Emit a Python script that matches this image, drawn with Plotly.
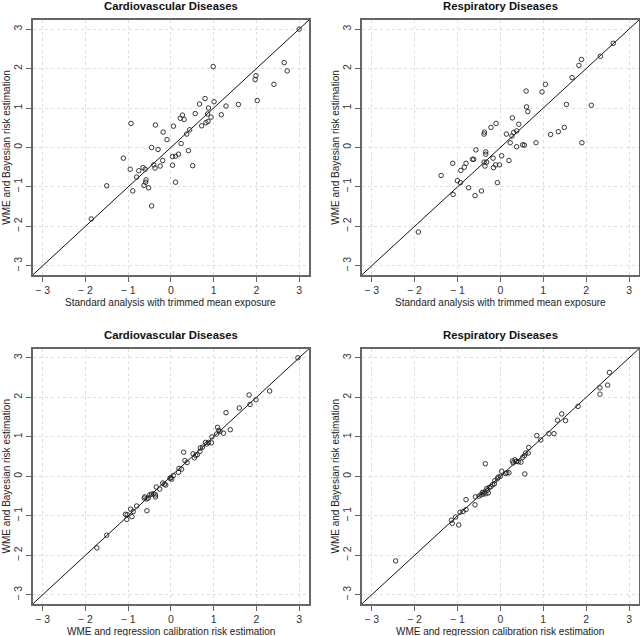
import plotly.graph_objects as go

# ---------------- data ----------------
cvd_std_x = [3.0, 0.99, 2.65, 2.72, 1.99, 1.97, 2.41, 2.02, 0.80, 1.01, 0.67, 1.29, 1.58, 0.88, 0.27,
             0.57, 0.86, 1.18, 0.22, 0.31, 0.94, -0.93, -0.36, 0.06, 0.72, 0.82, 0.87, 0.44, -0.18, 0.37,
             -0.09, 0.24, -0.45, -0.30, 0.41, -1.11, 0.18, 0.11, 0.04, -0.19, -0.95, -0.65, -0.60, -0.75,
             -0.40, -0.37, -0.25, 0.04, 0.51, -0.80, -0.58, -0.59, -0.63, -0.52, 0.11, -1.50, -0.89, -0.45, -1.86]
cvd_std_y = [3.0, 2.05, 2.15, 1.94, 1.82, 1.72, 1.60, 1.19, 1.24, 1.16, 1.10, 1.05, 1.09, 1.00, 0.82,
             0.86, 0.85, 0.83, 0.74, 0.71, 0.77, 0.61, 0.57, 0.54, 0.55, 0.63, 0.66, 0.45, 0.39, 0.34,
             0.20, 0.10, 0.0, -0.05, -0.08, -0.27, -0.17, -0.22, -0.23, -0.33, -0.55, -0.51, -0.55, -0.59,
             -0.44, -0.52, -0.47, -0.45, -0.46, -0.75, -0.82, -0.88, -0.96, -1.02, -0.88, -0.97, -1.10, -1.48, -1.81]

resp_std_x = [2.63, 2.33, 1.89, 1.83, 1.67, 1.05, 0.97, 0.60, 1.54, 2.12, 0.61, 0.64, 0.28, -0.10, 0.43,
              -0.22, 1.49, 1.35, -0.37, -0.38, 0.14, 0.31, 0.38, 1.17, 0.27, 0.23, 0.83, 1.90, 0.52, 0.56,
              0.38, -0.57, -0.34, -0.34, 0.03, -0.17, -0.65, -0.62, 0.20, -0.38, -0.32, -0.80, -1.11, -0.11,
              -0.02, -0.36, -0.84, -0.16, -0.92, -1.38, -1.00, -0.93, -0.07, -0.74, -0.44, -1.10, -0.59, -1.91]
resp_std_y = [2.64, 2.31, 2.23, 2.08, 1.77, 1.60, 1.41, 1.43, 1.09, 1.07, 1.03, 0.91, 0.75, 0.61, 0.59,
              0.51, 0.51, 0.40, 0.39, 0.34, 0.34, 0.38, 0.42, 0.33, 0.29, 0.12, 0.12, 0.12, 0.07, 0.06,
              0.02, -0.06, -0.11, -0.17, -0.21, -0.27, -0.30, -0.30, -0.33, -0.37, -0.37, -0.40, -0.40, -0.44,
              -0.44, -0.47, -0.50, -0.51, -0.58, -0.71, -0.84, -0.89, -0.89, -1.02, -1.10, -1.19, -1.22, -2.14]

cvd_rc_x = [2.97, 1.83, 2.31, 1.85, 1.99, 1.60, 1.29, 1.09, 1.39, 1.15, 1.23, 1.07, 0.96, 0.95, 0.81,
            0.84, 0.74, 0.69, 0.68, 0.30, 0.52, 0.58, 0.55, 0.33, 0.38, 0.19, 0.18, 0.06, -0.02, 0.02,
            -0.19, -0.12, -0.34, -0.26, -0.49, -0.40, -0.36, -0.61, -0.56, -0.53, -0.80, -0.94, -0.88, -0.56,
            -1.06, -1.02, -1.03, -0.91, -1.50, -1.73, 0.88, 0.62, 0.0, -0.45, -0.36, -0.62, 0.25, 1.12, -0.15]
cvd_rc_y = [3.0, 2.06, 2.16, 1.82, 1.94, 1.73, 1.61, 1.24, 1.18, 1.14, 1.09, 1.07, 1.00, 0.85, 0.86,
            0.82, 0.74, 0.72, 0.63, 0.61, 0.57, 0.53, 0.47, 0.40, 0.35, 0.20, 0.10, 0.02, -0.05, -0.07,
            -0.17, -0.22, -0.27, -0.32, -0.47, -0.44, -0.52, -0.52, -0.57, -0.55, -0.75, -0.83, -0.89, -0.87,
            -0.96, -0.97, -1.09, -1.02, -1.49, -1.81, 0.86, 0.55, -0.03, -0.45, -0.47, -0.55, 0.18, 1.16, -0.20]

resp_rc_x = [2.54, 2.50, 2.32, 2.32, 1.81, 1.43, 1.33, 1.52, 1.13, 1.25, 0.85, 0.94, 0.66, 0.65, 0.59,
             0.56, 0.52, 0.48, 0.38, 0.34, 0.28, -0.35, 0.57, 0.03, 0.15, 0.20, 0.0, -0.07, -0.13, -0.14,
             -0.32, -0.26, -0.38, -0.42, -0.34, -0.28, -0.58, -0.45, -0.80, -0.59, -0.80, -0.87, -0.94, -1.04,
             -1.14, -1.12, -0.97, -2.44, -0.30, -0.22, -0.18, -0.40, -0.50, 0.30, 0.37, 0.42, 0.12, -0.05]
resp_rc_y = [2.63, 2.31, 2.24, 2.08, 1.77, 1.58, 1.42, 1.41, 1.08, 1.08, 1.03, 0.92, 0.73, 0.59, 0.59,
             0.52, 0.48, 0.36, 0.38, 0.42, 0.39, 0.32, 0.06, 0.13, 0.09, 0.09, 0.0, -0.06, -0.11, -0.19,
             -0.31, -0.28, -0.40, -0.41, -0.44, -0.42, -0.52, -0.47, -0.59, -0.72, -0.84, -0.89, -0.91, -1.03,
             -1.11, -1.19, -1.23, -2.14, -0.35, -0.26, -0.21, -0.45, -0.50, 0.34, 0.38, 0.37, 0.07, -0.02]

panel_titles = ["Cardiovascular Diseases", "Respiratory Diseases",
                "Cardiovascular Diseases", "Respiratory Diseases"]
x_titles = ["Standard analysis with trimmed mean exposure",
            "Standard analysis with trimmed mean exposure",
            "WME and regression calibration risk estimation",
            "WME and regression calibration risk estimation"]
y_title = "WME and Bayesian risk estimation"
tick_vals = [-3, -2, -1, 0, 1, 2, 3]
tick_text = ["\u2212 3", "\u2212 2", "\u2212 1", "0", "1", "2", "3"]
axis_range = [-3.23, 3.23]

# ---------------- layout geometry (pixels) ----------------
W, H = 640, 636
panels_px = [  # left, right, top, bottom
    (32.7, 309.0, 20.0, 275.0),
    (361.7, 639.0, 20.0, 275.0),
    (32.7, 309.0, 348.7, 604.0),
    (361.7, 639.0, 348.7, 604.0),
]
datasets = [(cvd_std_x, cvd_std_y), (resp_std_x, resp_std_y),
            (cvd_rc_x, cvd_rc_y), (resp_rc_x, resp_rc_y)]

FONT = "Liberation Sans, Arial, Helvetica, sans-serif"
fig = go.Figure()
annotations = []

for i, ((l, r, t, b), (xs, ys)) in enumerate(zip(panels_px, datasets)):
    n = "" if i == 0 else str(i + 1)
    xa, ya = "x" + n, "y" + n
    fig.add_trace(go.Scatter(
        x=[axis_range[0] - 1, axis_range[1] + 1], y=[axis_range[0] - 1, axis_range[1] + 1],
        mode="lines", line=dict(color="#111", width=1), xaxis=xa, yaxis=ya,
        showlegend=False, hoverinfo="skip"))
    fig.add_trace(go.Scatter(
        x=xs, y=ys, mode="markers",
        marker=dict(symbol="circle-open", size=4.5, color="#222", line=dict(width=0.9, color="#222")),
        xaxis=xa, yaxis=ya, showlegend=False))
    common = dict(range=axis_range, tickvals=tick_vals, ticktext=tick_text,
                  showline=True, linecolor="#666", linewidth=1.6, mirror=True,
                  ticks="outside", ticklen=5, tickwidth=1, tickcolor="#666",
                  showgrid=True, gridcolor="#dedede", gridwidth=1, griddash="dot",
                  zeroline=False, tickfont=dict(family=FONT, size=10.5, color="#333"))
    fig.update_layout(**{
        "xaxis" + n: dict(domain=[l / W, r / W], anchor=ya, **common),
        "yaxis" + n: dict(domain=[1 - b / H, 1 - t / H], anchor=xa, tickangle=-90, **common),
    })
    cx = (l + r) / 2
    cy = (t + b) / 2
    base = dict(xref="paper", yref="paper", showarrow=False, xanchor="center", yanchor="middle")
    annotations.append(dict(text="<b>" + panel_titles[i] + "</b>", x=cx / W, y=1 - (t - 14) / H,
                            font=dict(family=FONT, size=11.3, color="#111"), **base))
    annotations.append(dict(text=x_titles[i], x=cx / W, y=1 - (b + 27) / H,
                            font=dict(family=FONT, size=10, color="#222"), **base))
    annotations.append(dict(text=y_title, x=(l - 26.5) / W, y=1 - cy / H, textangle=-90,
                            font=dict(family=FONT, size=10, color="#222"), **base))

fig.update_layout(width=W, height=H, margin=dict(l=0, r=0, t=0, b=0),
                  paper_bgcolor="white", plot_bgcolor="white",
                  annotations=annotations, showlegend=False)

fig.write_html("out.html", config={"displayModeBar": False},
               post_script="document.body.style.margin='0';")
